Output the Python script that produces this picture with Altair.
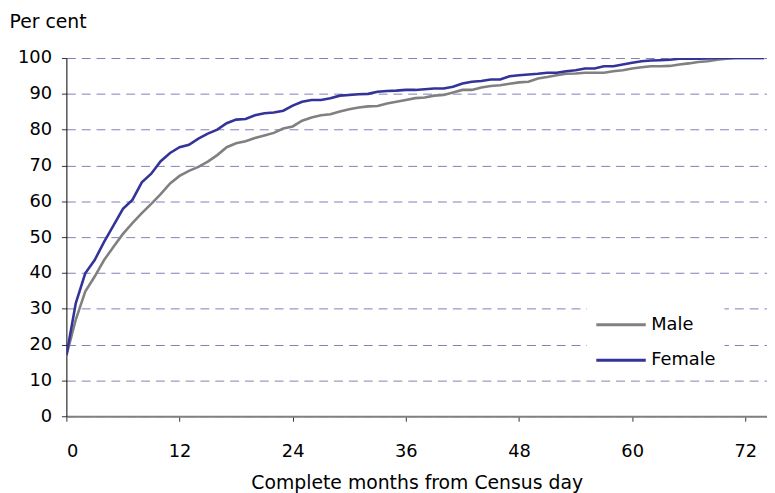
import altair as alt
import pandas as pd

months = list(range(75))
male = [16.9, 27.0, 34.8, 39.0, 43.6, 47.3, 50.9, 53.9, 56.7, 59.3,
        62.0, 65.0, 67.1, 68.5, 69.6, 71.1, 72.9, 75.1, 76.2, 76.8,
        77.7, 78.4, 79.1, 80.3, 80.9, 82.5, 83.4, 84.0, 84.3, 85.1,
        85.7, 86.2, 86.5, 86.6, 87.3, 87.8, 88.3, 88.8, 89.0, 89.5,
        89.7, 90.4, 91.1, 91.1, 91.8, 92.2, 92.4, 92.8, 93.2, 93.4,
        94.3, 94.7, 95.2, 95.6, 95.7, 95.9, 95.9, 95.9, 96.3, 96.6,
        97.1, 97.4, 97.7, 97.7, 97.8, 98.2, 98.5, 98.9, 99.1, 99.5,
        99.8, 100, 100, 100, 100]
female = [17.0, 31.6, 39.9, 43.6, 48.7, 53.3, 57.9, 60.4, 65.3, 67.7,
          71.2, 73.5, 75.1, 75.8, 77.5, 78.9, 80.0, 81.8, 82.8, 83.0,
          84.0, 84.6, 84.8, 85.3, 86.7, 87.8, 88.3, 88.3, 88.8, 89.5,
          89.7, 89.9, 90.0, 90.6, 90.8, 90.9, 91.1, 91.1, 91.3, 91.5,
          91.5, 92.0, 92.9, 93.4, 93.6, 94.0, 94.0, 94.9, 95.2, 95.4,
          95.6, 95.9, 95.9, 96.3, 96.6, 97.1, 97.1, 97.7, 97.7, 98.2,
          98.7, 99.1, 99.3, 99.4, 99.5, 99.8, 99.8, 99.8, 99.9, 100,
          100, 100, 100, 100, 100]
series = ["Male", "Female"]
colors = ["#808080", "#333399"]
x_ticks = [0, 12, 24, 36, 48, 60, 72]
y_ticks = list(range(0, 101, 10))

df = pd.DataFrame({
    "month": months * 2,
    "value": male + female,
    "sex": ["Male"] * len(months) + ["Female"] * len(months),
})

FONT = "DejaVu Sans"

chart = alt.Chart(df).mark_line(strokeWidth=2.6, clip=True).encode(
    x=alt.X("month:Q",
            scale=alt.Scale(domain=[0, 74.3], nice=False, zero=False),
            axis=alt.Axis(values=x_ticks, title="Complete months from Census day",
                          grid=False, domainColor="#808080", domainWidth=2,
                          tickColor="#333333", tickSize=5,
                          labelFontSize=18, labelPadding=22, labelFont=FONT,
                          labelColor="black",
                          titleFontSize=19, titleFont=FONT, titleFontWeight="normal",
                          titleColor="black", titleBaseline="alphabetic", titleY=73)),
    y=alt.Y("value:Q",
            scale=alt.Scale(domain=[0, 100], nice=False),
            axis=alt.Axis(values=y_ticks, title="Per cent", grid=True,
                          gridColor="#8080B8", gridDash=[9, 6], gridWidth=1,
                          domainColor="black", domainWidth=1,
                          tickColor="#333333", tickSize=5,
                          labelFontSize=18, labelPadding=10, labelFont=FONT,
                          labelColor="black",
                          titleFontSize=19, titleFont=FONT, titleFontWeight="normal",
                          titleColor="black", titleAngle=0, titleAlign="left",
                          titleBaseline="alphabetic", titleX=-58, titleY=-31)),
    color=alt.Color("sex:N",
                    scale=alt.Scale(domain=series, range=colors),
                    legend=alt.Legend(title=None, orient="none", legendX=526, legendY=235,
                                      symbolType="stroke", symbolSize=2500,
                                      symbolStrokeWidth=3, labelFontSize=18,
                                      labelFont=FONT, labelColor="black",
                                      labelOffset=4, fillColor="white", padding=8,
                                      rowPadding=0)),
).properties(
    width=708, height=362,
    autosize=alt.AutoSizeParams(type="none"),
    padding={"left": 59, "top": 48, "right": 0, "bottom": 75},
).configure_view(stroke=None)

chart.save("out.html", embed_options={"renderer": "svg", "actions": False})
